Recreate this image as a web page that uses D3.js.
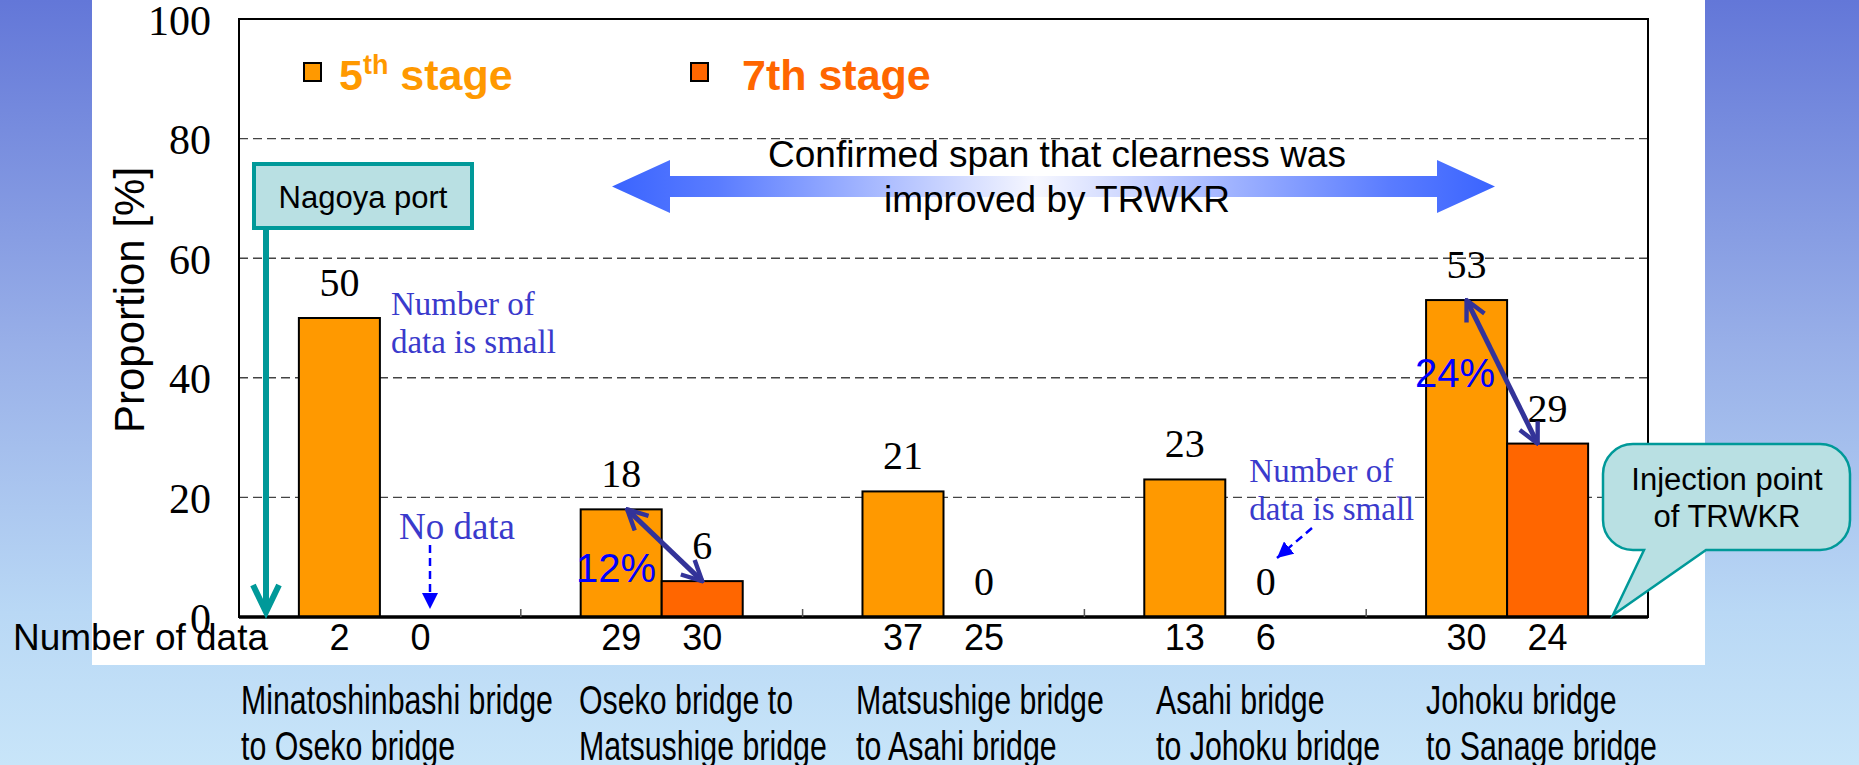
<!DOCTYPE html>
<html>
<head>
<meta charset="utf-8">
<script src="https://cdn.jsdelivr.net/npm/d3@7"></script>
<style>
  body { margin: 0; overflow: hidden; }
  svg { display: block; }
</style>
</head>
<body>
<div id="chart"></div>
<script>
// ---- data ----
const SECTIONS = [
  ['Minatoshinbashi bridge', 'to Oseko bridge'],
  ['Oseko bridge to', 'Matsushige bridge'],
  ['Matsushige bridge', 'to Asahi bridge'],
  ['Asahi bridge', 'to Johoku bridge'],
  ['Johoku bridge', 'to Sanage bridge'],
];
const SERIES = ['5th', '7th'];
const STAGE5 = [50, 18, 21, 23, 53];
const STAGE7 = [null, 6, 0, 0, 29];   // null = no data
const COUNT5 = [2, 29, 37, 13, 30];
const COUNT7 = [0, 30, 25, 6, 24];
const Y_TICKS = [0, 20, 40, 60, 80, 100];

// left edge of each two-line section name (they sit under the slide, not on ticks)
const SECTION_X = [241, 579, 856, 1156, 1426];

const COLORS = { '5th': '#FF9900', '7th': '#FF6600' };
const SERIF = '"Liberation Serif", "Times New Roman", serif';
const SANS = '"Liberation Sans", Arial, sans-serif';
const NOTE_BLUE = '#3A3ACC';
const TEAL = '#009999';
const TEAL_FILL = '#B9E0E3';

const W = 1859, H = 765;

const svg = d3.select('#chart').append('svg')
  .attr('width', W).attr('height', H);

const defs = svg.append('defs');

const bg = defs.append('linearGradient').attr('id', 'bg')
  .attr('x1', 0).attr('y1', 0).attr('x2', 0).attr('y2', 1);
bg.append('stop').attr('offset', 0).attr('stop-color', '#6377D8');
bg.append('stop').attr('offset', 0.45).attr('stop-color', '#98AFE8');
bg.append('stop').attr('offset', 0.8).attr('stop-color', '#B9D8F5');
bg.append('stop').attr('offset', 1).attr('stop-color', '#C8E5F9');

svg.append('rect').attr('width', W).attr('height', H).attr('fill', 'url(#bg)');
// white slide panel
svg.append('rect').attr('x', 92).attr('y', 0).attr('width', 1613).attr('height', 665)
  .attr('fill', '#fff');

// ---- scales ----
const plot = { left: 239, right: 1648, top: 19, bottom: 617 };

const x0 = d3.scaleBand()
  .domain(d3.range(SECTIONS.length))
  .range([plot.left, plot.right])
  .paddingInner(0.425)
  .paddingOuter(0.2125);

const x1 = d3.scaleBand().domain(SERIES).range([0, x0.bandwidth()]);

const y = d3.scaleLinear().domain([0, 100]).range([plot.bottom, plot.top]);

const barCenter = (i, s) => x0(i) + x1(s) + x1.bandwidth() / 2;

// gridlines
svg.append('g').selectAll('line')
  .data(Y_TICKS.filter(t => t > 0 && t < 100))
  .enter().append('line')
  .attr('x1', plot.left).attr('x2', plot.right)
  .attr('y1', d => y(d)).attr('y2', d => y(d))
  .attr('stroke', '#444').attr('stroke-width', 1.4)
  .attr('stroke-dasharray', '9,5');

// y axis labels
const yAxis = svg.append('g')
  .attr('transform', `translate(${plot.left},0)`)
  .call(d3.axisLeft(y).tickValues(Y_TICKS).tickSize(0).tickPadding(28));
yAxis.select('.domain').remove();
yAxis.selectAll('text')
  .attr('font-family', SERIF).attr('font-size', 42).attr('fill', '#000')
  .attr('dy', '0.36em');

svg.append('text')
  .attr('transform', `translate(144,300) rotate(-90)`)
  .attr('text-anchor', 'middle')
  .attr('font-family', SANS).attr('font-size', 42)
  .text('Proportion [%]');

// ---- bars ----
const bars = [];
SECTIONS.forEach((_, i) => {
  bars.push({ i, s: '5th', v: STAGE5[i], n: COUNT5[i] });
  bars.push({ i, s: '7th', v: STAGE7[i], n: COUNT7[i] });
});

svg.append('g').selectAll('rect')
  .data(bars.filter(d => d.v > 0))
  .enter().append('rect')
  .attr('x', d => x0(d.i) + x1(d.s))
  .attr('y', d => y(d.v))
  .attr('width', x1.bandwidth())
  .attr('height', d => y(0) - y(d.v))
  .attr('fill', d => COLORS[d.s])
  .attr('stroke', '#000').attr('stroke-width', 2);

// value labels
svg.append('g').selectAll('text')
  .data(bars.filter(d => d.v != null))
  .enter().append('text')
  .attr('x', d => barCenter(d.i, d.s))
  .attr('y', d => y(d.v) - 22)
  .attr('text-anchor', 'middle')
  .attr('font-family', SERIF).attr('font-size', 40)
  .text(d => d.v);

// frame + section ticks
svg.append('rect')
  .attr('x', plot.left).attr('y', plot.top)
  .attr('width', plot.right - plot.left).attr('height', plot.bottom - plot.top)
  .attr('fill', 'none').attr('stroke', '#000').attr('stroke-width', 2);
svg.append('line')
  .attr('x1', plot.left).attr('x2', plot.right)
  .attr('y1', plot.bottom).attr('y2', plot.bottom)
  .attr('stroke', '#000').attr('stroke-width', 3.5);
svg.append('g').selectAll('line')
  .data(d3.range(1, SECTIONS.length))
  .enter().append('line')
  .attr('x1', i => x0(i) - x0.step() * x0.paddingInner() / 2)
  .attr('x2', i => x0(i) - x0.step() * x0.paddingInner() / 2)
  .attr('y1', plot.bottom).attr('y2', plot.bottom - 8)
  .attr('stroke', '#555').attr('stroke-width', 1.5);

// ---- number of data row ----
svg.append('text')
  .attr('x', 13).attr('y', 650)
  .attr('font-family', SANS).attr('font-size', 37)
  .text('Number of data');

svg.append('g').selectAll('text')
  .data(bars)
  .enter().append('text')
  .attr('x', d => barCenter(d.i, d.s))
  .attr('y', 650)
  .attr('text-anchor', 'middle')
  .attr('font-family', SANS).attr('font-size', 36)
  .text(d => d.n);

// section names under the panel (condensed face)
const secLabel = svg.append('g').selectAll('text')
  .data(SECTIONS)
  .enter().append('text')
  .attr('transform', (d, i) => `translate(${SECTION_X[i]},0) scale(0.74,1)`)
  .attr('font-family', SANS).attr('font-size', 41);
secLabel.selectAll('tspan')
  .data(d => d)
  .enter().append('tspan')
  .attr('x', 0)
  .attr('y', (d, k) => 714 + k * 46)
  .text(d => d);

// ---- legend ----
const legend = svg.append('g');
[{ s: '5th', x: 304 }, { s: '7th', x: 691 }].forEach(l => {
  legend.append('rect')
    .attr('x', l.x).attr('y', 63).attr('width', 17).attr('height', 18)
    .attr('fill', COLORS[l.s]).attr('stroke', '#000').attr('stroke-width', 2);
});
const l5 = legend.append('text')
  .attr('x', 339).attr('y', 90)
  .attr('font-family', SANS).attr('font-weight', 'bold').attr('font-size', 43)
  .attr('fill', COLORS['5th']);
l5.append('tspan').text('5');
l5.append('tspan').attr('font-size', 27).attr('dy', -16).text('th');
l5.append('tspan').attr('dy', 16).text(' stage');
legend.append('text')
  .attr('x', 742).attr('y', 90)
  .attr('font-family', SANS).attr('font-weight', 'bold').attr('font-size', 43)
  .attr('fill', COLORS['7th'])
  .text('7th stage');

// ---- annotations ----
// gradient double arrow spanning the improved stretch
const grad = defs.append('linearGradient').attr('id', 'span')
  .attr('gradientUnits', 'userSpaceOnUse')
  .attr('x1', 612).attr('x2', 1495).attr('y1', 0).attr('y2', 0);
grad.append('stop').attr('offset', 0).attr('stop-color', '#3A64FF');
grad.append('stop').attr('offset', 0.12).attr('stop-color', '#5A7CFF');
grad.append('stop').attr('offset', 0.48).attr('stop-color', '#F6F7FF');
grad.append('stop').attr('offset', 0.88).attr('stop-color', '#5A7CFF');
grad.append('stop').attr('offset', 1).attr('stop-color', '#3A64FF');

const ax0 = 612, ax1 = 1495, ay = 186.5, head = 58, hh = 26.5, sh = 10.5;
svg.append('path')
  .attr('d', `M${ax0},${ay} L${ax0 + head},${ay - hh} L${ax0 + head},${ay - sh} L${ax1 - head},${ay - sh}
    L${ax1 - head},${ay - hh} L${ax1},${ay} L${ax1 - head},${ay + hh} L${ax1 - head},${ay + sh}
    L${ax0 + head},${ay + sh} L${ax0 + head},${ay + hh} Z`)
  .attr('fill', 'url(#span)');

const spanText = svg.append('text')
  .attr('text-anchor', 'middle')
  .attr('font-family', SANS).attr('font-size', 37);
spanText.append('tspan').attr('x', 1057).attr('y', 167).text('Confirmed span that clearness was');
spanText.append('tspan').attr('x', 1057).attr('y', 212).text('improved by TRWKR');

// Nagoya port box + teal arrow down to the axis
svg.append('line')
  .attr('x1', 266).attr('x2', 266).attr('y1', 228).attr('y2', plot.bottom - 6)
  .attr('stroke', TEAL).attr('stroke-width', 6);
svg.append('path')
  .attr('d', `M253,585 L266,${plot.bottom - 5} L279,585`)
  .attr('fill', 'none').attr('stroke', TEAL).attr('stroke-width', 6);
svg.append('rect')
  .attr('x', 254).attr('y', 164).attr('width', 218).attr('height', 64)
  .attr('fill', TEAL_FILL).attr('stroke', TEAL).attr('stroke-width', 4);
svg.append('text')
  .attr('x', 363).attr('y', 208).attr('text-anchor', 'middle')
  .attr('font-family', SANS).attr('font-size', 31)
  .text('Nagoya port');

// "Number of data is small" notes
const notes = [
  { x: x0(0) + x1('5th') + x1.bandwidth() + 11, y: 315 },
  { x: x0(3) + x1('7th') + 24, y: 482 },
];
notes.forEach(n => {
  const t = svg.append('text')
    .attr('font-family', SERIF).attr('font-size', 33).attr('fill', NOTE_BLUE);
  t.append('tspan').attr('x', n.x).attr('y', n.y).text('Number of');
  t.append('tspan').attr('x', n.x).attr('y', n.y + 38).text('data is small');
});

svg.append('text')
  .attr('x', 457).attr('y', 539).attr('text-anchor', 'middle')
  .attr('font-family', SERIF).attr('font-size', 37).attr('fill', NOTE_BLUE)
  .text('No data');

// dashed blue pointers with solid heads
defs.append('marker').attr('id', 'tri')
  .attr('viewBox', '0 0 10 10').attr('refX', 10).attr('refY', 5)
  .attr('markerWidth', 16).attr('markerHeight', 16)
  .attr('markerUnits', 'userSpaceOnUse').attr('orient', 'auto')
  .append('path').attr('d', 'M0,0 L10,5 L0,10 Z').attr('fill', '#0000FF');

[[430, 545, 430, 609], [1312, 528, 1277, 558]].forEach(([xa, ya, xb, yb]) => {
  svg.append('line')
    .attr('x1', xa).attr('y1', ya).attr('x2', xb).attr('y2', yb)
    .attr('stroke', '#0000FF').attr('stroke-width', 2.5)
    .attr('stroke-dasharray', '8,5')
    .attr('marker-end', 'url(#tri)');
});

// reduction arrows between stages
defs.append('marker').attr('id', 'chev')
  .attr('viewBox', '0 0 12 12').attr('refX', 11).attr('refY', 6)
  .attr('markerWidth', 24).attr('markerHeight', 24)
  .attr('markerUnits', 'userSpaceOnUse').attr('orient', 'auto-start-reverse')
  .append('path').attr('d', 'M1,1 L11,6 L1,11')
  .attr('fill', 'none').attr('stroke', '#333399').attr('stroke-width', 2.2);

const drops = [
  { i: 1, label: '12%', tx: 656, ty: 582 },
  { i: 4, label: '24%', tx: 1495, ty: 387 },
];
drops.forEach(d => {
  svg.append('line')
    .attr('x1', barCenter(d.i, '5th') + (d.i === 1 ? 6 : 0)).attr('y1', y(STAGE5[d.i]))
    .attr('x2', barCenter(d.i, '7th') - (d.i === 4 ? 10 : 0)).attr('y2', y(STAGE7[d.i]))
    .attr('stroke', '#333399').attr('stroke-width', 5)
    .attr('marker-start', 'url(#chev)').attr('marker-end', 'url(#chev)');
  svg.append('text')
    .attr('x', d.tx).attr('y', d.ty).attr('text-anchor', 'end')
    .attr('font-family', SANS).attr('font-size', 40).attr('fill', '#0000FF')
    .text(d.label);
});

// injection point callout
const cx0 = 1603, cx1 = 1850, cy0 = 444, cy1 = 550, r = 30;
svg.append('path')
  .attr('d', `M${cx0 + r},${cy0} H${cx1 - r} A${r},${r} 0 0 1 ${cx1},${cy0 + r} V${cy1 - r}
    A${r},${r} 0 0 1 ${cx1 - r},${cy1} H1706 L1613,${plot.bottom - 2} L1644,${cy1}
    H${cx0 + r} A${r},${r} 0 0 1 ${cx0},${cy1 - r} V${cy0 + r} A${r},${r} 0 0 1 ${cx0 + r},${cy0} Z`)
  .attr('fill', TEAL_FILL).attr('stroke', TEAL).attr('stroke-width', 2.5);
const inj = svg.append('text')
  .attr('text-anchor', 'middle')
  .attr('font-family', SANS).attr('font-size', 31);
inj.append('tspan').attr('x', 1727).attr('y', 490).text('Injection point');
inj.append('tspan').attr('x', 1727).attr('y', 527).text('of TRWKR');
</script>
</body>
</html>
